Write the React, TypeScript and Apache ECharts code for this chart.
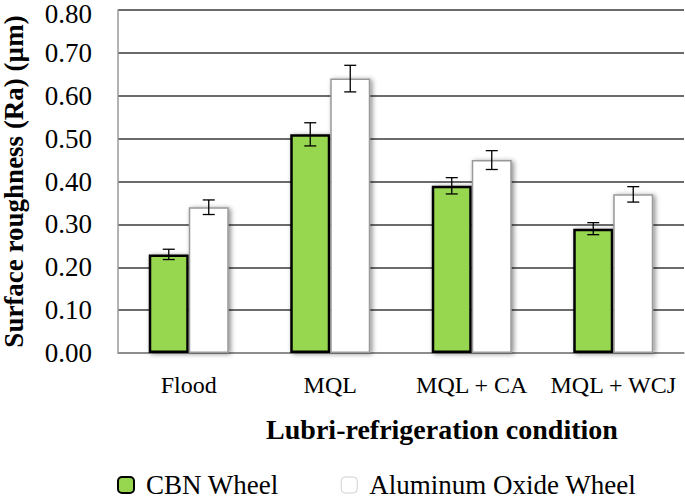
import React, { useEffect, useRef } from "react";
import * as echarts from "echarts";

const categories = ["Flood", "MQL", "MQL + CA", "MQL + WCJ"];
const cbnValues = [0.23, 0.51, 0.39, 0.29];
const cbnErrors = [0.012, 0.027, 0.019, 0.014];
const aloValues = [0.34, 0.64, 0.45, 0.37];
const aloErrors = [0.017, 0.031, 0.022, 0.018];
const seriesNames = ["CBN Wheel", "Aluminum Oxide Wheel"];

const FONT = "'Liberation Serif', 'Times New Roman', serif";
const BAR_W = 40;
const Y_MAX = 0.8;

function errorSeries(values: number[], errors: number[], offset: number) {
  return {
    type: "custom",
    silent: true,
    z: 10,
    renderItem: (params: any, api: any) => {
      const idx = api.value(0);
      const lo = api.coord([idx, api.value(1)]);
      const hi = api.coord([idx, api.value(2)]);
      const x = lo[0] + offset;
      const cap = 6;
      const style = { stroke: "#000", lineWidth: 1.3 };
      return {
        type: "group",
        children: [
          { type: "line", shape: { x1: x, y1: lo[1], x2: x, y2: hi[1] }, style },
          { type: "line", shape: { x1: x - cap, y1: lo[1], x2: x + cap, y2: lo[1] }, style },
          { type: "line", shape: { x1: x - cap, y1: hi[1], x2: x + cap, y2: hi[1] }, style },
        ],
      };
    },
    data: values.map((v, i) => [i, v - errors[i], v + errors[i]]),
  };
}

export default function App() {
  const ref = useRef<HTMLDivElement>(null);
  useEffect(() => {
    const chart = echarts.init(ref.current!, null, { renderer: "svg" });
    chart.setOption({
      animation: false,
      backgroundColor: "#fff",
      textStyle: { fontFamily: FONT },
      grid: { left: 118, right: 1, top: 10, bottom: 146, outerBoundsMode: "none", containLabel: false },
      legend: {
        left: 117,
        top: 471,
        itemGap: 62,
        itemWidth: 16,
        itemHeight: 16,
        padding: 0,
        textStyle: { fontFamily: FONT, fontSize: 27, lineHeight: 28, color: "#000", padding: [0, 0, 0, 7] },
        data: [
          { name: seriesNames[0], itemStyle: { color: "#97d64f", borderColor: "#000", borderWidth: 2 } },
          { name: seriesNames[1], itemStyle: { color: "#fff", borderColor: "#d0d0d0", borderWidth: 1 } },
        ],
      },
      xAxis: {
        type: "category",
        data: categories,
        name: "Lubri-refrigeration condition",
        nameLocation: "middle",
        nameGap: 62,
        nameTextStyle: {
          fontFamily: FONT,
          fontSize: 28,
          fontWeight: "bold",
          color: "#000",
          padding: [0, 0, 0, 82],
        },
        axisLine: { show: true, lineStyle: { color: "#999", width: 1.5 } },
        axisTick: { show: false },
        axisLabel: { fontFamily: FONT, fontSize: 24, color: "#000", margin: 20, interval: 0 },
      },
      yAxis: {
        type: "value",
        min: 0,
        max: Y_MAX,
        interval: 0.1,
        name: "Surface roughness (Ra) (µm)",
        nameLocation: "middle",
        nameGap: 91,
        nameTextStyle: { fontFamily: FONT, fontSize: 27, fontWeight: "bold", color: "#000" },
        axisLine: { show: true, lineStyle: { color: "#999", width: 1.5 } },
        axisTick: { show: false },
        axisLabel: {
          fontFamily: FONT,
          fontSize: 27,
          lineHeight: 20,
          color: "#000",
          margin: 26,
          formatter: (v: number) => (v >= Y_MAX - 1e-9 ? `{top|${v.toFixed(2)}}` : v.toFixed(2)),
          rich: {
            top: { fontFamily: FONT, fontSize: 27, lineHeight: 20, color: "#000", padding: [7, 0, 0, 0] },
          },
        },
        splitLine: { show: true, lineStyle: { color: "#3a3a3a", width: 1.5 } },
      },
      series: [
        {
          name: seriesNames[0],
          type: "bar",
          barWidth: BAR_W,
          barGap: "0%",
          data: cbnValues,
          itemStyle: {
            color: "#97d64f",
            borderColor: "#000",
            borderWidth: 2.5,
            shadowBlur: 5,
            shadowColor: "rgba(0,0,0,0.45)",
            shadowOffsetX: 2,
            shadowOffsetY: 1,
          },
        },
        {
          name: seriesNames[1],
          type: "bar",
          barWidth: BAR_W,
          barGap: "0%",
          data: aloValues,
          itemStyle: {
            color: "#fff",
            borderColor: "#999",
            borderWidth: 1.5,
            shadowBlur: 5,
            shadowColor: "rgba(0,0,0,0.45)",
            shadowOffsetX: 2,
            shadowOffsetY: 1,
          },
        },
        errorSeries(cbnValues, cbnErrors, -BAR_W / 2),
        errorSeries(aloValues, aloErrors, BAR_W / 2),
      ],
    });
    return () => chart.dispose();
  }, []);
  return <div ref={ref} style={{ width: 685, height: 499, position: "absolute", left: 0, top: 0 }} />;
}
